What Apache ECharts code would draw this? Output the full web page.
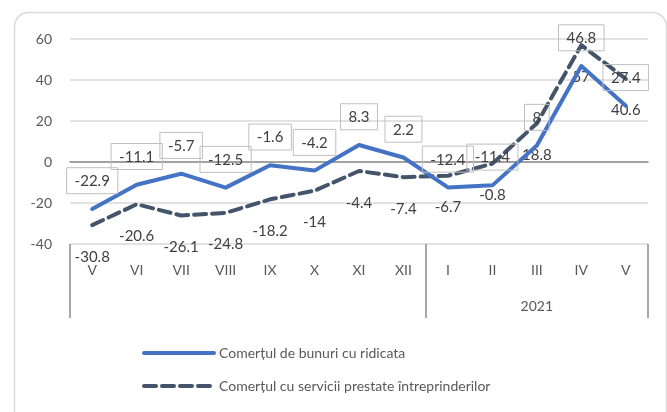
<!DOCTYPE html>
<html>
<head>
<meta charset="utf-8">
<script src="https://cdn.jsdelivr.net/npm/echarts@6/dist/echarts.min.js"></script>
<style>
  html, body { margin: 0; padding: 0; background: #fff; }
  #chart { width: 667px; height: 412px; }
</style>
</head>
<body>
<div id="chart"></div>
<script>
// luni (mai 2020 - mai 2021)
const months = ['V', 'VI', 'VII', 'VIII', 'IX', 'X', 'XI', 'XII', 'I', 'II', 'III', 'IV', 'V'];
// comertul de bunuri cu ridicata
const bunuri = [-22.9, -11.1, -5.7, -12.5, -1.6, -4.2, 8.3, 2.2, -12.4, -11.4, 8, 46.8, 27.4];
// comertul cu servicii prestate intreprinderilor
const servicii = [-30.8, -20.6, -26.1, -24.8, -18.2, -14, -4.4, -7.4, -6.7, -0.8, 18.8, 57, 40.6];
// grupul de ani pe axa de jos
const yearLabel = '2021';

const font = 'Lato';
const txt = '#595959';

const chart = echarts.init(document.getElementById('chart'));

const option = {
    animation: false,
    textStyle: { fontFamily: font },
    graphic: [{
        // chenarul zonei graficului
        type: 'rect',
        left: 12, top: 10,
        shape: { width: 652, height: 430, r: 14 },
        style: { fill: 'none', stroke: '#d9d9d9', lineWidth: 1.5 },
        silent: true
    }],
    grid: { left: 70, right: 19, top: 39, bottom: 168 },
    legend: {
        orient: 'vertical',
        left: 137, top: 341,
        itemWidth: 70, itemHeight: 14,
        itemGap: 19,
        itemStyle: { opacity: 0 },
        lineStyle: { width: 4 },
        textStyle: { fontFamily: font, fontSize: 14, color: txt },
        data: ['Comerțul de bunuri cu ridicata', 'Comerțul cu servicii prestate întreprinderilor']
    },
    xAxis: [{
        // axa la zero
        type: 'category',
        data: months,
        axisLine: { onZero: true, lineStyle: { color: '#8c8c8c', width: 1.5 } },
        axisTick: { show: false },
        axisLabel: { show: false }
    }, {
        // etichetele lunilor jos
        type: 'category',
        data: months,
        position: 'bottom',
        axisLine: { show: false, onZero: false },
        axisTick: { show: false },
        axisLabel: { margin: 19, fontFamily: font, fontSize: 14, color: txt }
    }, {
        // al doilea nivel: anul
        type: 'value',
        min: 0, max: 13,
        position: 'bottom',
        axisLine: { show: false, onZero: false },
        splitLine: { show: false },
        axisTick: { show: true, customValues: [0, 8, 13], length: 74, lineStyle: { color: '#8c8c8c', width: 1.5 } },
        axisLabel: {
            customValues: [10.5], margin: 55,
            fontFamily: font, fontSize: 14, color: txt,
            formatter: () => yearLabel
        }
    }],
    yAxis: {
        type: 'value',
        min: -40, max: 60, interval: 20,
        axisLine: { show: false },
        axisTick: { show: false },
        splitLine: { lineStyle: { color: '#d9d9d9', width: 1.5 } },
        axisLabel: { margin: 18, fontFamily: font, fontSize: 14, color: txt }
    },
    series: [{
        name: 'Comerțul de bunuri cu ridicata',
        type: 'line',
        data: bunuri,
        symbol: 'circle',
        symbolSize: 0.5,
        showAllSymbol: true,
        z: 3,
        lineStyle: { color: '#4472C4', width: 4, cap: 'round', join: 'round' },
        itemStyle: { color: '#4472C4' },
        labelLayout: { hideOverlap: false },
        label: {
            show: true,
            position: 'top',
            distance: 15,
            fontFamily: font, fontSize: 15, color: '#404040',
            borderColor: '#bfbfbf', borderWidth: 1,
            padding: [6, 8, 5, 8]
        }
    }, {
        name: 'Comerțul cu servicii prestate întreprinderilor',
        type: 'line',
        data: servicii,
        symbol: 'circle',
        symbolSize: 0.5,
        showAllSymbol: true,
        z: 2,
        lineStyle: { color: '#44546A', width: 4, type: [12, 6], cap: 'round', join: 'round' },
        itemStyle: { color: '#44546A' },
        labelLayout: { hideOverlap: false },
        label: {
            show: true,
            position: 'bottom',
            distance: 24,
            fontFamily: font, fontSize: 15, color: '#404040'
        }
    }]
};

chart.setOption(option);
</script>
</body>
</html>
